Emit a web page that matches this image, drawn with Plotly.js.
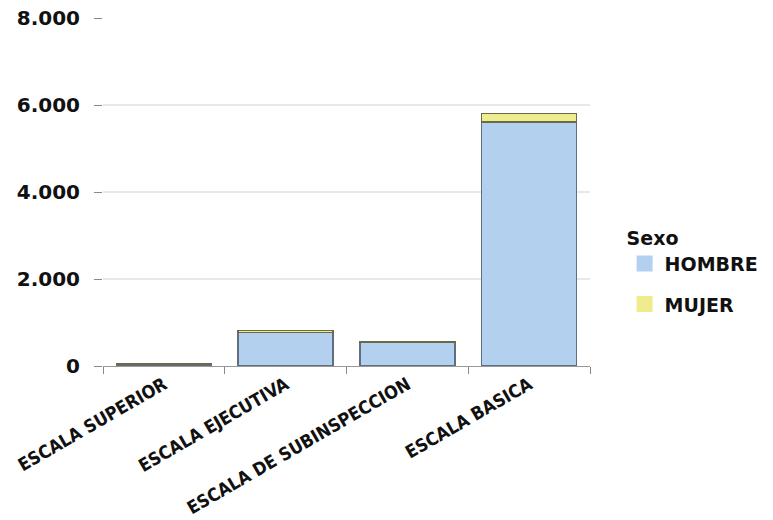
<!DOCTYPE html>
<html><head><meta charset="utf-8">
<script src="https://cdn.plot.ly/plotly-3.0.1.min.js"></script>
<style>body{margin:0;background:#fff}#c{width:773px;height:520px}</style>
</head><body><div id="c"></div>
<script>
var categories = ["ESCALA SUPERIOR", "ESCALA EJECUTIVA", "ESCALA DE SUBINSPECCION", "ESCALA BASICA"];
var hombre = [45, 775, 545, 5610];
var mujer = [5, 35, 5, 190];
var yTicks = [0, 2000, 4000, 6000, 8000];
var legendTitle = "Sexo";
var seriesNames = ["HOMBRE", "MUJER"];

var blue = "#b4d0ef", yellow = "#efec8e";
var font = "DejaVu Sans";
var traces = [
  {type: "bar", x: categories, y: hombre, name: seriesNames[0], showlegend: false,
   marker: {color: blue, line: {color: "#5f6f80", width: 1.3}}},
  {type: "bar", x: categories, y: mujer, name: seriesNames[1], showlegend: false,
   marker: {color: yellow, line: {color: "#6b6a48", width: 1.3}}},
  {type: "scatter", mode: "markers", x: [null], y: [null], name: seriesNames[0], legendgroup: "a",
   marker: {symbol: "square", size: 17, color: blue}},
  {type: "scatter", mode: "markers", x: [null], y: [null], name: seriesNames[1], legendgroup: "b",
   marker: {symbol: "square", size: 17, color: yellow}}
];
var layout = {
  width: 773, height: 520,
  margin: {l: 103, r: 183, t: 18, b: 154},
  barmode: "stack", bargap: 0.22,
  separators: ",.",
  paper_bgcolor: "#fff", plot_bgcolor: "#fff",
  font: {family: font, color: "#111"},
  xaxis: {
    type: "category", tickson: "boundaries", ticks: "outside", ticklen: 7, tickcolor: "#888",
    showline: true, linecolor: "#999", linewidth: 1.3, showgrid: false,
    tickangle: -30, tickfont: {family: "DejaVu Sans Condensed", size: 18, weight: "bold", color: "#111"}
  },
  yaxis: {
    range: [0, 8000], tickvals: yTicks, separatethousands: true, tickformat: ",d",
    ticks: "outside", ticklen: 8, tickcolor: "#888", showline: false, ticklabelstandoff: 10,
    gridcolor: "#e8e8e8", gridwidth: 1.3, zeroline: false,
    tickfont: {family: font, size: 20, weight: "bold", color: "#111"}
  },
  legend: {
    xref: "container", x: 0.808, xanchor: "left", y: 0.42, yanchor: "top",
    traceorder: "grouped", tracegroupgap: 13,
    title: {text: legendTitle, font: {family: font, size: 19, weight: "bold", color: "#111"}},
    font: {family: font, size: 19, weight: "bold", color: "#111"},
    itemwidth: 30
  }
};
Plotly.newPlot("c", traces, layout, {displayModeBar: false, staticPlot: true});
</script></body></html>
